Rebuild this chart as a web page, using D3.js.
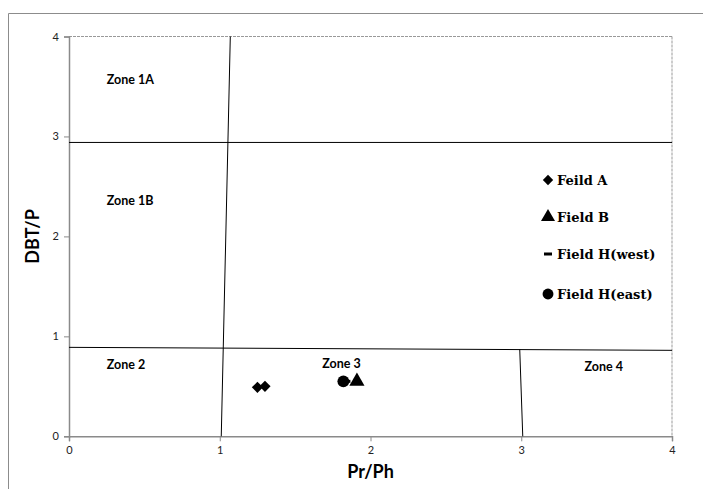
<!DOCTYPE html>
<html><head><meta charset="utf-8">
<script src="https://cdn.jsdelivr.net/npm/d3@7"></script>
<style>body{margin:0;background:#fff}svg{display:block}</style>
</head><body>
<svg id="c" width="703" height="489"></svg>
<script>
const xTicks = [0,1,2,3,4];
const yTicks = [0,1,2,3,4];
const seriesNames = ["Feild A","Field B","Field H(west)","Field H(east)"];
const feildA = [[1.25,0.49],[1.30,0.50]];
const fieldB = [[1.91,0.55]];
const fieldHWest = [[1.84,0.55]];
const fieldHEast = [[1.82,0.55]];
const zoneLines = [
  [[1.07,4],[1.01,0]],
  [[0,2.94],[4,2.94]],
  [[0,0.89],[4,0.86]],
  [[2.99,0.87],[3.01,0]]
];
const zoneLabels = [
  {t:"Zone 1A",x:0.25,y:3.52},
  {t:"Zone 1B",x:0.25,y:2.31},
  {t:"Zone 2",x:0.25,y:0.67},
  {t:"Zone 3",x:1.68,y:0.68},
  {t:"Zone 4",x:3.42,y:0.65}
];

const svg = d3.select("#c");
const x = d3.scaleLinear().domain([0,4]).range([69,672]);
const y = d3.scaleLinear().domain([0,4]).range([436.3,36.5]);

svg.append("path").attr("d","M8.5,489 V13.5 H703").attr("fill","none").attr("stroke","#8c8c8c").attr("stroke-width",1);

svg.append("line").attr("x1",x(0)).attr("x2",x(4)).attr("y1",y(4)).attr("y2",y(4))
  .attr("stroke","#999").attr("stroke-dasharray","3,1");
svg.append("line").attr("x1",x(4)).attr("x2",x(4)).attr("y1",y(4)).attr("y2",y(0))
  .attr("stroke","#999").attr("stroke-dasharray","3,1");

const xAxis = svg.append("g").attr("transform",`translate(0,${y(0)})`)
  .call(d3.axisBottom(x).tickValues(xTicks).tickSize(5).tickPadding(5).tickFormat(d3.format("d")));
const yAxis = svg.append("g").attr("transform",`translate(${x(0)},0)`)
  .call(d3.axisLeft(y).tickValues(yTicks).tickSize(5).tickPadding(5).tickFormat(d3.format("d")));
[xAxis,yAxis].forEach(g=>{
  g.select(".domain").attr("stroke","#8a8a8a").attr("stroke-width",1.5);
  g.selectAll(".tick line").attr("stroke","#8a8a8a");
  g.selectAll("text").attr("fill","#222").style("font-family","Lato, 'Open Sans', sans-serif").style("font-size","11px");
});

const line = d3.line().x(d=>x(d[0])).y(d=>y(d[1]));
svg.append("g").selectAll("path").data(zoneLines).join("path")
  .attr("d",line).attr("fill","none").attr("stroke","#000").attr("stroke-width",1);

svg.append("g").selectAll("text").data(zoneLabels).join("text")
  .attr("x",d=>x(d.x)).attr("y",d=>y(d.y)).text(d=>d.t)
  .style("font-family","Lato, 'Open Sans', sans-serif").style("font-weight","bold").style("font-size","12.5px").attr("fill","#000");

const sym = [d3.symbolDiamond2, d3.symbolTriangle, null, d3.symbolCircle];
const sizes = [80, 100, 0, 110];
function drawSym(g, data, i){
  if(i===2){
    g.selectAll("rect.s"+i).data(data).join("rect").attr("class","s"+i)
      .attr("x",d=>x(d[0])-4).attr("y",d=>y(d[1])-1.5).attr("width",8).attr("height",3).attr("fill","#000");
  } else {
    g.selectAll("path.s"+i).data(data).join("path").attr("class","s"+i)
      .attr("transform",d=>`translate(${x(d[0])},${y(d[1])})`)
      .attr("d",d3.symbol().type(sym[i]).size(sizes[i])).attr("fill","#000");
  }
}
const pts = svg.append("g");
drawSym(pts, fieldHWest, 2);
drawSym(pts, fieldHEast, 3);
drawSym(pts, fieldB, 1);
drawSym(pts, feildA, 0);

const leg = svg.append("g");
const legY = [180,217,254,294];
seriesNames.forEach((n,i)=>{
  const g = leg.append("g").attr("transform",`translate(548,${legY[i]})`);
  if(i===2){
    g.append("rect").attr("x",-4).attr("y",-1.5).attr("width",8).attr("height",3).attr("fill","#000");
  } else {
    g.append("path").attr("d",d3.symbol().type(sym[i]).size(sizes[i]*0.85)).attr("fill","#000");
  }
  g.append("text").attr("x",9).attr("y",5).text(n)
    .style("font-family","'DejaVu Serif', serif").style("font-weight","bold").style("font-size","13px");
});

svg.append("text").attr("x",x(2)).attr("y",478).attr("text-anchor","middle").text("Pr/Ph")
  .style("font-family","Lato, 'Open Sans', sans-serif").style("font-weight","bold").style("font-size","18px");
svg.append("text").attr("transform",`translate(39,${y(2)}) rotate(-90)`).attr("text-anchor","middle").text("DBT/P")
  .style("font-family","Lato, 'Open Sans', sans-serif").style("font-weight","bold").style("font-size","18px");
</script>
</body></html>
